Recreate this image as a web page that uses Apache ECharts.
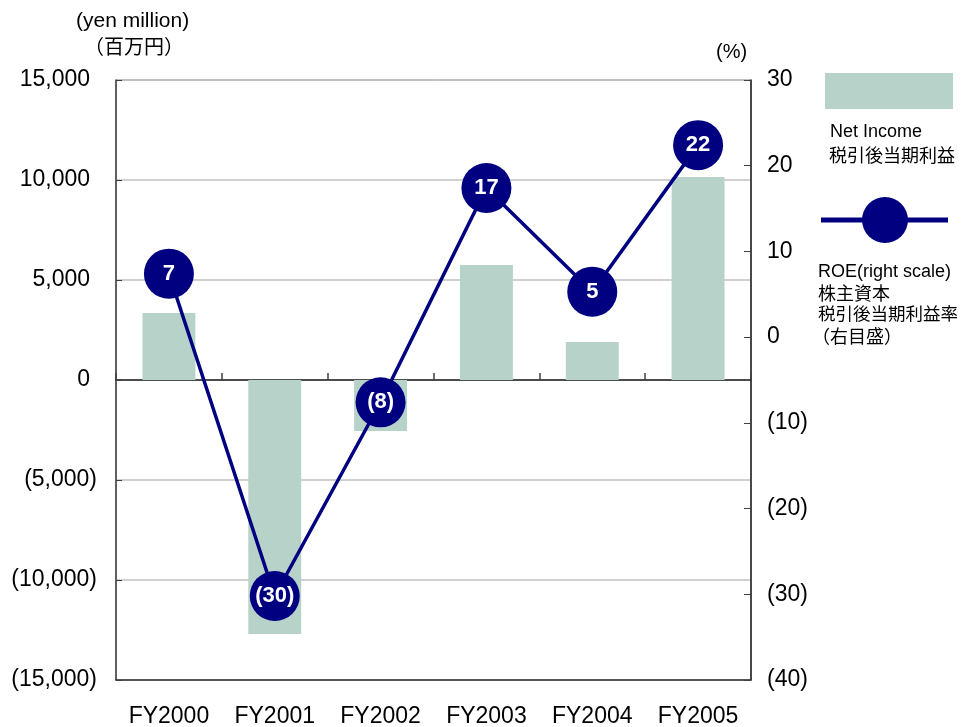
<!DOCTYPE html>
<html><head><meta charset="utf-8">
<script src="https://cdn.jsdelivr.net/npm/echarts@6/dist/echarts.min.js"></script>
<style>html,body{margin:0;padding:0;background:#fff}#c{width:968px;height:727px}</style>
</head><body><div id="c"></div>
<script>
const categories = ['FY2000','FY2001','FY2002','FY2003','FY2004','FY2005'];
const netIncome = [3350, -12700, -2550, 5750, 1900, 10150];
const roe = [7.4, -30.2, -7.6, 17.4, 5.3, 22.4];
const leftTicks = {min: -15000, max: 15000, interval: 5000};
const rightTicks = {min: -40, max: 30, interval: 10};

const FONT = 'Liberation Sans, Arial, sans-serif';
const CJK = '"Noto Sans CJK JP", sans-serif';
function fmtLeft(v){ const s = Math.abs(v).toLocaleString('en-US'); return v < 0 ? '{n|(' + s + ')}' : '{p|' + s + '}'; }
function fmtRight(v){ return v < 0 ? '(' + Math.abs(v) + ')' : String(v); }
function fmtRoe(p){ const r = Math.round(p.value); return r < 0 ? '(' + Math.abs(r) + ')' : String(r); }

const chart = echarts.init(document.getElementById('c'));
chart.setOption({
  animation: false,
  grid: {left: 116, right: 217, top: 80, bottom: 47, show: true, borderColor: '#808080', borderWidth: 1, outerBoundsMode: 'none', containLabel: false},
  xAxis: [{
    type: 'category', data: categories, position: 'bottom',
    axisLine: {onZero: false, lineStyle: {color: '#303030', width: 1.5}},
    axisTick: {show: false},
    axisLabel: {interval: 0, fontSize: 23, color: '#000', fontFamily: FONT, margin: 25}
  },{
    type: 'category', data: categories, position: 'bottom',
    axisLine: {onZero: true, onZeroAxisIndex: 0, lineStyle: {color: '#202020', width: 1.5}},
    axisTick: {show: true, inside: true, length: 7, lineStyle: {color: '#404040', width: 1.5}},
    axisLabel: {show: false}
  }],
  yAxis: [{
    type: 'value', min: leftTicks.min, max: leftTicks.max, interval: leftTicks.interval,
    axisLine: {show: true, lineStyle: {color: '#404040', width: 1.5}},
    axisTick: {show: true, inside: true, length: 6, lineStyle: {color: '#404040'}},
    splitLine: {show: true, lineStyle: {color: '#c0c0c0', width: 1.5}},
    axisLabel: {
      color: '#000', formatter: fmtLeft, margin: 19,
      rich: {
        p: {fontSize: 23, fontFamily: FONT, color: '#000', padding: [0, 7, 0, 0]},
        n: {fontSize: 23, fontFamily: FONT, color: '#000'}
      }
    }
  },{
    type: 'value', min: rightTicks.min, max: rightTicks.max, interval: rightTicks.interval, position: 'right',
    axisLine: {show: true, lineStyle: {color: '#202020', width: 1.5}},
    axisTick: {show: true, inside: true, length: 7, lineStyle: {color: '#404040'}},
    splitLine: {show: false},
    axisLabel: {fontSize: 23, color: '#000', fontFamily: FONT, formatter: fmtRight, margin: 16}
  }],
  series: [{
    type: 'bar', name: 'Net Income', data: netIncome, xAxisIndex: 0, yAxisIndex: 0,
    barWidth: '50%', itemStyle: {color: '#b6d2c9'}
  },{
    type: 'line', name: 'ROE', data: roe, xAxisIndex: 0, yAxisIndex: 1,
    symbol: 'circle', symbolSize: 50,
    lineStyle: {color: '#000080', width: 3.5}, itemStyle: {color: '#000080'},
    label: {show: true, position: 'inside', color: '#fff', fontWeight: 'bold', fontSize: 22, fontFamily: FONT, formatter: fmtRoe},
    z: 5
  }],
  graphic: [
    {type: 'text', left: 76, top: 11, style: {text: '(yen million)', fontSize: 21, fontFamily: FONT, fill: '#000'}},
    {type: 'text', left: 84, top: 36, style: {text: '（百万円）', fontSize: 20, fontFamily: CJK, fill: '#000'}},
    {type: 'text', left: 716, top: 42, style: {text: '(%)', fontSize: 20, fontFamily: FONT, fill: '#000'}},
    {type: 'rect', shape: {x: 825, y: 73, width: 128, height: 36}, style: {fill: '#b6d2c9'}},
    {type: 'text', left: 830, top: 123, style: {text: 'Net Income', fontSize: 18, fontFamily: FONT, fill: '#000'}},
    {type: 'text', left: 829, top: 146, style: {text: '税引後当期利益', fontSize: 18, fontFamily: CJK, fill: '#000'}},
    {type: 'line', shape: {x1: 821, y1: 220, x2: 948, y2: 220}, style: {stroke: '#000080', lineWidth: 5}},
    {type: 'circle', shape: {cx: 885, cy: 220, r: 23}, style: {fill: '#000080'}},
    {type: 'text', left: 818, top: 263, style: {text: 'ROE(right scale)', fontSize: 18, fontFamily: FONT, fill: '#000'}},
    {type: 'text', left: 818, top: 284, style: {text: '株主資本', fontSize: 18, fontFamily: CJK, fill: '#000'}},
    {type: 'text', left: 818, top: 305, style: {text: '税引後当期利益率', fontSize: 17.5, fontFamily: CJK, fill: '#000'}},
    {type: 'text', left: 812, top: 327, style: {text: '（右目盛）', fontSize: 18, fontFamily: CJK, fill: '#000'}}
  ]
});
</script></body></html>
